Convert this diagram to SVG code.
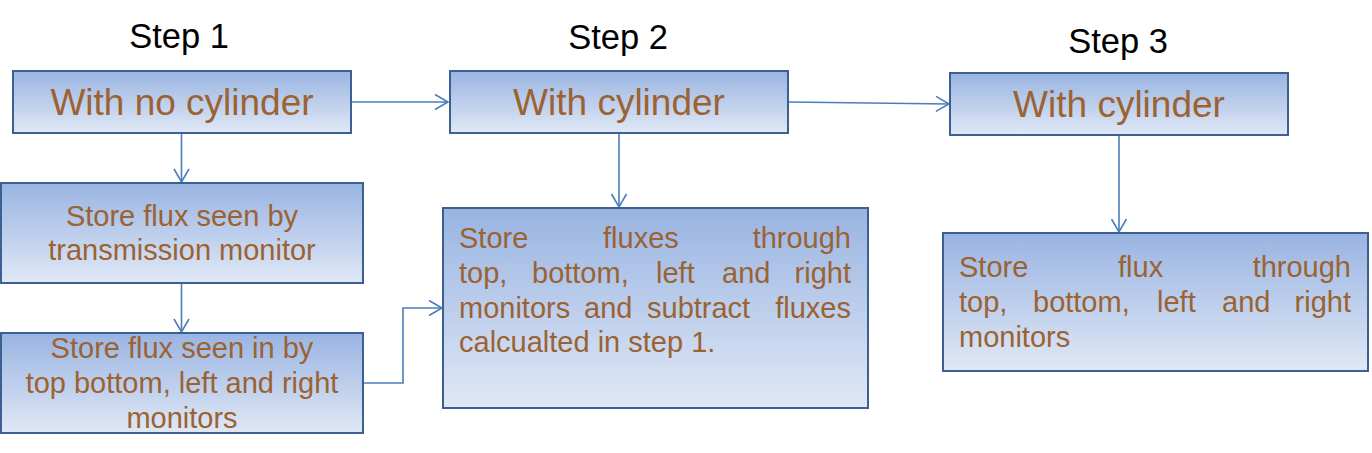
<svg xmlns="http://www.w3.org/2000/svg" width="1372" height="453" viewBox="0 0 1372 453">
<style>
.box{stroke:#3b6091;stroke-width:2;fill:url(#g)}
.step{font-family:"Liberation Sans",Arial,sans-serif;font-size:34.5px;fill:#000}
.big{font-family:"Liberation Sans",Arial,sans-serif;font-size:37px;fill:#9b6232}
.txt{font-family:"Liberation Sans",Arial,sans-serif;font-size:29px;fill:#9b6232}
.c{text-anchor:middle}
.con{fill:none;stroke:#4a7ebb;stroke-width:1.6}
</style>
<defs>
<linearGradient id="g" x1="0" y1="0" x2="0" y2="1">
<stop offset="0" stop-color="#99b4e2"/>
<stop offset="1" stop-color="#e0e8f5"/>
</linearGradient>
<marker id="arr" markerUnits="userSpaceOnUse" markerWidth="20" markerHeight="20" viewBox="-14 -10 16 20" refX="0" refY="0" orient="auto">
<path d="M-13,-7.5 L0,0 L-13,7.5" fill="none" stroke="#4a7ebb" stroke-width="1.6"/>
</marker>
</defs>
<rect width="1372" height="453" fill="#fff"/>
<text class="step c" x="179" y="48">Step 1</text>
<text class="step c" x="618" y="49">Step 2</text>
<text class="step c" x="1118" y="53">Step 3</text>
<g id="connectors">
<path class="con" d="M351,102 H448" marker-end="url(#arr)"/>
<path class="con" d="M789,102 L949,104" marker-end="url(#arr)"/>
<path class="con" d="M181.5,133 V182" marker-end="url(#arr)"/>
<path class="con" d="M181.5,283 V332" marker-end="url(#arr)"/>
<path class="con" d="M619,133 V207" marker-end="url(#arr)"/>
<path class="con" d="M1119,135 V232" marker-end="url(#arr)"/>
<path class="con" d="M363,383 H403 V308 H442" marker-end="url(#arr)"/>
</g>
<g id="step1">
<rect class="box" x="13" y="71" width="338" height="62"/>
<text class="big c" x="182" y="115">With no cylinder</text>
</g>
<g id="store1">
<rect class="box" x="1" y="183" width="362" height="100"/>
<text class="txt c" x="182" y="226">Store flux seen by</text>
<text class="txt c" x="182" y="260">transmission monitor</text>
</g>
<g id="store2">
<rect class="box" x="1" y="333" width="362" height="100"/>
<text class="txt c" x="182" y="358">Store flux seen in by</text>
<text class="txt c" x="182" y="393">top bottom, left and right</text>
<text class="txt c" x="182" y="428">monitors</text>
</g>
<g id="step2">
<rect class="box" x="450" y="71" width="338" height="62"/>
<text class="big c" x="619" y="115">With cylinder</text>
</g>
<g id="store3">
<rect class="box" x="443" y="208" width="425" height="200"/>
<text class="txt"><tspan x="459" y="248">Store</tspan><tspan x="603" y="248">fluxes</tspan><tspan x="851" y="248" text-anchor="end">through</tspan></text>
<text class="txt"><tspan x="459" y="283">top,</tspan><tspan x="532" y="283">bottom,</tspan><tspan x="656" y="283">left</tspan><tspan x="722" y="283">and</tspan><tspan x="851" y="283" text-anchor="end">right</tspan></text>
<text class="txt"><tspan x="459" y="318">monitors</tspan><tspan x="584" y="318">and</tspan><tspan x="647" y="318">subtract</tspan><tspan x="851" y="318" text-anchor="end">fluxes</tspan></text>
<text class="txt" x="459" y="352">calcualted in step 1.</text>
</g>
<g id="step3">
<rect class="box" x="950" y="73" width="338" height="62"/>
<text class="big c" x="1119" y="117">With cylinder</text>
</g>
<g id="store4">
<rect class="box" x="943" y="233" width="425" height="138"/>
<text class="txt"><tspan x="959" y="277">Store</tspan><tspan x="1118" y="277">flux</tspan><tspan x="1351" y="277" text-anchor="end">through</tspan></text>
<text class="txt"><tspan x="959" y="312">top,</tspan><tspan x="1033" y="312">bottom,</tspan><tspan x="1157" y="312">left</tspan><tspan x="1222" y="312">and</tspan><tspan x="1351" y="312" text-anchor="end">right</tspan></text>
<text class="txt" x="959" y="347">monitors</text>
</g>
</svg>
